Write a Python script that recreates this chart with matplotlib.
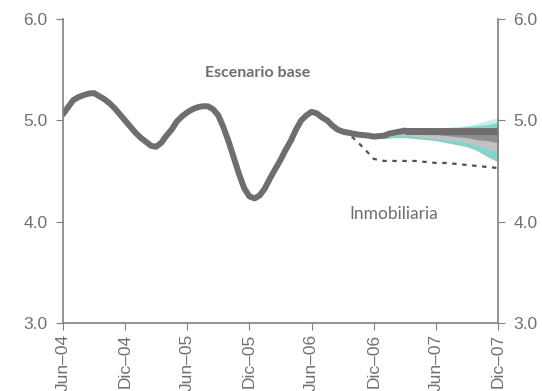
import numpy as np
import matplotlib
matplotlib.use("Agg")
from matplotlib import pyplot as plt

plt.rcParams["font.family"] = ["Liberation Sans", "DejaVu Sans"]

# meses desde Jun-04
tick_labels = ["Jun–04", "Dic–04", "Jun–05", "Dic–05", "Jun–06", "Dic–06", "Jun–07", "Dic–07"]
tick_pos = [0, 6, 12, 18, 24, 30, 36, 42]

# serie observada, cada medio mes (m0..m33)
obs = [5.06, 5.13, 5.20, 5.23, 5.25, 5.265, 5.27, 5.24, 5.21, 5.17,
       5.12, 5.06, 5.00, 4.94, 4.88, 4.83, 4.79, 4.75, 4.74, 4.78,
       4.85, 4.91, 4.99, 5.04, 5.08, 5.11, 5.13, 5.14, 5.14, 5.11,
       5.05, 4.93, 4.79, 4.63, 4.47, 4.33, 4.25, 4.23, 4.26, 4.33,
       4.43, 4.52, 4.61, 4.71, 4.80, 4.91, 5.00, 5.05, 5.085, 5.07,
       5.03, 5.00, 4.95, 4.91, 4.89, 4.88, 4.87, 4.86, 4.855, 4.85,
       4.84, 4.845, 4.85, 4.87, 4.88, 4.89, 4.90]

# escenario base (m33..m42)
base = [4.90, 4.90, 4.90, 4.90, 4.90, 4.90, 4.90, 4.90, 4.90, 4.90]

# inmobiliaria (m27..m42)
inmob = [4.88, 4.83, 4.73, 4.62, 4.60, 4.60, 4.60, 4.60, 4.59, 4.58,
         4.58, 4.57, 4.56, 4.55, 4.54, 4.53]

# abanico (m29..m42)
fan_center = [4.85, 4.84, 4.85, 4.88, 4.90, 4.90, 4.90, 4.90, 4.90, 4.90, 4.90, 4.90, 4.90, 4.90]
fan_up2 = [4.87, 4.87, 4.88, 4.89, 4.90, 4.91, 4.91, 4.92, 4.93, 4.94, 4.95, 4.97, 5.00, 5.03]
fan_up1 = [4.87, 4.87, 4.88, 4.89, 4.90, 4.90, 4.90, 4.91, 4.92, 4.93, 4.94, 4.95, 4.96, 4.98]
fan_lo1 = [4.85, 4.84, 4.85, 4.86, 4.87, 4.87, 4.86, 4.86, 4.85, 4.84, 4.83, 4.81, 4.80, 4.78]
fan_lo2 = [4.85, 4.84, 4.84, 4.85, 4.85, 4.84, 4.83, 4.82, 4.81, 4.80, 4.78, 4.75, 4.72, 4.69]
fan_lo3 = [4.84, 4.82, 4.82, 4.83, 4.83, 4.82, 4.81, 4.80, 4.78, 4.76, 4.74, 4.70, 4.64, 4.59]

m_obs = np.arange(len(obs)) * 0.5
m_base = np.arange(33, 43)
m_inmob = np.arange(27, 43)
m_fan = np.arange(29, 43)

gris = "#6e6e6e"
txt = "#707070"

fig = plt.figure(figsize=(5.42, 3.91), dpi=100)
ax = fig.add_axes([0.116, 0.174, 0.803, 0.777])

ax.fill_between(m_fan, fan_up1, fan_up2, color="#c8ece5", lw=0)
ax.fill_between(m_fan, fan_lo3, fan_up1, color="#86d4c8", lw=0)
ax.fill_between(m_fan, fan_lo2, fan_center, color="#c2c2c4", lw=0)
ax.fill_between(m_fan, fan_lo1, fan_center, color="#8e8e92", lw=0)

ax.plot(m_inmob, inmob, color="#505050", lw=1.6, linestyle=(0, (2, 2.5)))
ax.plot(m_obs, obs, color=gris, lw=4.3, solid_capstyle="round", solid_joinstyle="round")
ax.plot(m_base, base, color=gris, lw=5, solid_capstyle="butt")

ax.text(18.8, 5.47, "Escenario base", ha="center", va="center", fontsize=11.5,
        color=gris, family="Lato", weight="bold")
ax.text(31.9, 4.08, "Inmobiliaria", ha="center", va="center", fontsize=12.5,
        color=gris, family="Lato")

ax.set_xlim(0, 42)
ax.set_ylim(3.0, 6.0)
ax.set_yticks([3.0, 4.0, 5.0, 6.0])
ax.set_yticklabels(["3.0", "4.0", "5.0", "6.0"])
ax.set_xticks(tick_pos)
ax.set_xticklabels(tick_labels, rotation=90)

for s in ["left", "right", "bottom"]:
    ax.spines[s].set_color("#808080")
    ax.spines[s].set_linewidth(1.2)
ax.spines["top"].set_visible(False)

ax.tick_params(axis="y", which="both", left=True, right=True, labelleft=True,
               labelright=True, direction="out", length=5, color="#808080",
               labelsize=12.5, labelcolor=txt, pad=6)
ax.tick_params(axis="x", direction="out", length=5, color="#808080",
               labelsize=12.5, labelcolor=txt, pad=3)

fig.savefig("out.png", dpi=100)
